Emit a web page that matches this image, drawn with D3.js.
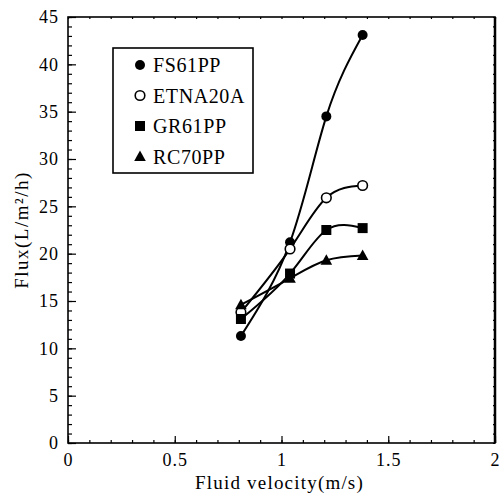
<!DOCTYPE html>
<html>
<head>
<meta charset="utf-8">
<script src="https://cdn.jsdelivr.net/npm/d3@7"></script>
<style>
  body { margin: 0; background: #fff; }
  svg text { font-family: "Liberation Serif", "DejaVu Serif", serif; fill: #000; }
</style>
</head>
<body>
<svg id="chart" width="502" height="493"></svg>
<script>
const velocity = [0.81, 1.04, 1.21, 1.38];
const seriesNames = ["FS61PP", "ETNA20A", "GR61PP", "RC70PP"];
const fs61pp = [11.3, 21.2, 34.5, 43.1];
const etna20a = [13.8, 20.5, 25.9, 27.2];
const gr61pp = [13.1, 17.9, 22.5, 22.7];
const rc70pp = [14.6, 17.4, 19.3, 19.8];
const xTicks = [0, 0.5, 1, 1.5, 2];
const yTicks = [0, 5, 10, 15, 20, 25, 30, 35, 40, 45];

const seriesValues = [fs61pp, etna20a, gr61pp, rc70pp];
const markers = ["dot", "circle", "square", "triangle"];
const serif = "Liberation Serif, DejaVu Serif, serif";

const svg = d3.select("#chart");
const margin = { left: 68, right: 7, top: 17, bottom: 50 };
const width = 502 - margin.left - margin.right;
const height = 493 - margin.top - margin.bottom;

const g = svg.append("g").attr("transform", `translate(${margin.left},${margin.top})`);

const x = d3.scaleLinear().domain([0, 2]).range([0, width]);
const y = d3.scaleLinear().domain([0, 45]).range([height, 0]);

// minor + major ticks, all drawn inward
const xMinor = d3.range(0, 2.0001, 0.1);
const yMinor = d3.range(0, 45.0001, 1);

function tickAxis(axisFn, scale, values, size) {
  return axisFn(scale).tickValues(values).tickSize(size).tickFormat("");
}

const bottomAxis = g.append("g").attr("transform", `translate(0,${height})`);
bottomAxis.call(tickAxis(d3.axisTop, x, xMinor, 3));
bottomAxis.append("g").call(tickAxis(d3.axisTop, x, xTicks, 7));
g.append("g").attr("transform", `translate(0,${height})`)
  .call(d3.axisBottom(x).tickValues(xTicks).tickSize(0).tickPadding(10).tickFormat(d3.format("")));

const leftAxis = g.append("g");
leftAxis.call(tickAxis(d3.axisRight, y, yMinor, 4));
leftAxis.append("g").call(tickAxis(d3.axisRight, y, yTicks, 8));
g.append("g")
  .call(d3.axisLeft(y).tickValues(yTicks).tickSize(0).tickPadding(9).tickFormat(d3.format("")));

g.append("g").call(tickAxis(d3.axisBottom, x, xMinor, 2));
g.append("g").attr("transform", `translate(${width},0)`)
  .call(tickAxis(d3.axisLeft, y, yMinor, 2));

g.selectAll(".domain").remove();
g.selectAll(".tick line").attr("stroke", "#000").attr("stroke-width", 1.2);
g.selectAll(".tick text")
  .attr("font-family", serif)
  .style("font-family", serif)
  .style("font-size", "18px")
  .style("letter-spacing", "1px");

// frame
g.append("rect").attr("width", width).attr("height", height)
  .attr("fill", "none").attr("stroke", "#000").attr("stroke-width", 1.6);
g.append("line").attr("x1", width).attr("x2", width).attr("y1", 0).attr("y2", height)
  .attr("stroke", "#000").attr("stroke-width", 2.5);

// curves
const line = d3.line().x((d, i) => x(velocity[i])).y(d => y(d)).curve(d3.curveNatural);
seriesValues.forEach(vals => {
  g.append("path").attr("d", line(vals))
    .attr("fill", "none").attr("stroke", "#000").attr("stroke-width", 2);
});

function drawMarker(sel, type, cx, cy) {
  if (type === "dot") {
    sel.append("circle").attr("cx", cx).attr("cy", cy).attr("r", 5).attr("fill", "#000");
  } else if (type === "circle") {
    sel.append("circle").attr("cx", cx).attr("cy", cy).attr("r", 4.8)
      .attr("fill", "#fff").attr("stroke", "#000").attr("stroke-width", 1.6);
  } else if (type === "square") {
    sel.append("rect").attr("x", cx - 5).attr("y", cy - 5).attr("width", 10).attr("height", 10).attr("fill", "#000");
  } else {
    sel.append("path").attr("transform", `translate(${cx},${cy})`)
      .attr("d", "M0,-6L5.8,4.4L-5.8,4.4Z").attr("fill", "#000");
  }
}

seriesValues.forEach((vals, s) => {
  vals.forEach((v, i) => drawMarker(g, markers[s], x(velocity[i]), y(v)));
});

// legend
const legend = svg.append("g");
legend.append("rect").attr("x", 113).attr("y", 48).attr("width", 140).attr("height", 125)
  .attr("fill", "#fff").attr("stroke", "#000").attr("stroke-width", 1.6);
seriesNames.forEach((name, i) => {
  const ly = 65 + i * 30.5;
  drawMarker(legend, markers[i], 140, ly);
  legend.append("text").attr("x", 153).attr("y", ly + 7)
    .attr("font-family", serif)
    .style("font-size", "20px").style("letter-spacing", "0.6px").text(name);
});

// axis titles
svg.append("text").attr("x", margin.left + width / 2 - 2).attr("y", 489)
  .attr("text-anchor", "middle").attr("font-family", serif)
  .style("font-size", "19px").style("letter-spacing", "1.2px").text("Fluid velocity(m/s)");
svg.append("text")
  .attr("transform", `translate(28,${margin.top + height / 2}) rotate(-90)`)
  .attr("text-anchor", "middle").attr("font-family", serif)
  .style("font-size", "19px").style("letter-spacing", "1.5px").text("Flux(L/m²/h)");
</script>
</body>
</html>
